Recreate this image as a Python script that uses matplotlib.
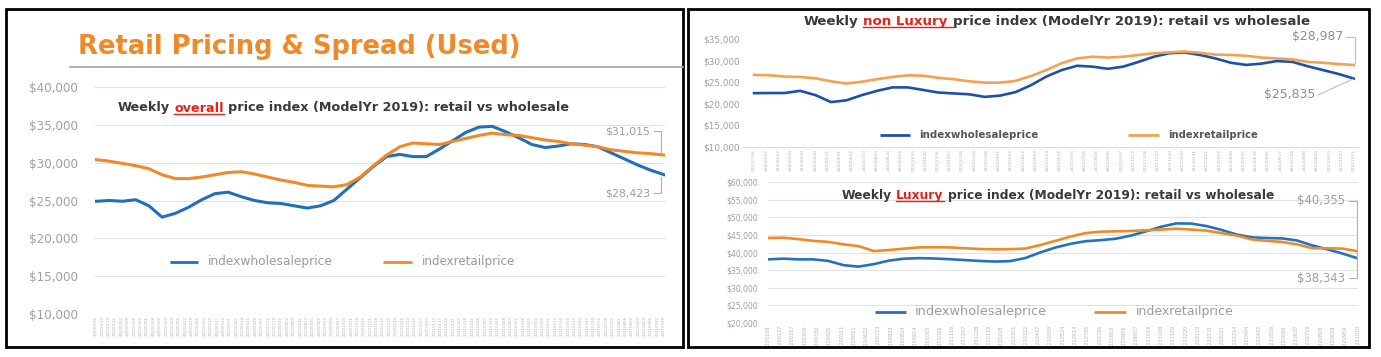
import numpy as np
import pandas as pd
import matplotlib
matplotlib.use('Agg')
import matplotlib.pyplot as plt
from matplotlib.lines import Line2D
from matplotlib.patches import Rectangle
from matplotlib.ticker import FuncFormatter
from matplotlib.transforms import Bbox

plt.rcParams['font.family'] = ['DejaVu Sans']

W, H = 1381, 357

# ---- data ----
overall_wholesale = [24900, 25000, 24900, 25100, 24300, 22800, 23300, 24100, 25100, 25900,
                     26100, 25500, 25000, 24700, 24600, 24300, 24000, 24300, 25000, 26500,
                     28000, 29500, 30800, 31100, 30800, 30800, 31800, 32900, 34000, 34700,
                     34800, 34100, 33300, 32400, 32000, 32200, 32500, 32400, 32100, 31300,
                     30500, 29700, 29000, 28423]
overall_retail = [30400, 30200, 29900, 29600, 29200, 28400, 27900, 27900, 28100, 28400,
                  28700, 28800, 28500, 28100, 27700, 27400, 27000, 26900, 26800, 27100,
                  28100, 29600, 31000, 32100, 32600, 32500, 32400, 32800, 33200, 33600,
                  33900, 33700, 33600, 33300, 33000, 32800, 32500, 32300, 32100, 31700,
                  31500, 31300, 31200, 31015]

nonlux_wholesale = [22460, 22500, 22500, 23000, 22000, 20400, 20800, 22000, 23000, 23800,
                    23800, 23200, 22600, 22400, 22200, 21600, 21900, 22700, 24300, 26300,
                    27800, 28800, 28600, 28100, 28600, 29700, 30900, 31700, 31900, 31300,
                    30500, 29500, 29000, 29300, 29900, 29700, 28700, 27800, 26900, 25835]
nonlux_retail = [26700, 26600, 26300, 26200, 25900, 25200, 24700, 25100, 25700, 26200,
                 26600, 26500, 26000, 25700, 25200, 24900, 24900, 25300, 26400, 27800,
                 29400, 30500, 30900, 30700, 30900, 31300, 31700, 31900, 32100, 31800,
                 31400, 31300, 31100, 30700, 30500, 30300, 29700, 29500, 29200, 28987]

lux_wholesale = [38050, 38250, 38050, 38050, 37600, 36400, 36000, 36700, 37700, 38250,
                 38390, 38300, 38100, 37850, 37600, 37430, 37550, 38400, 40000, 41400,
                 42450, 43200, 43500, 43900, 44800, 46000, 47300, 48250, 48200, 47500,
                 46400, 45100, 44300, 44100, 44000, 43400, 42000, 40900, 39700, 38343]
lux_retail = [44100, 44200, 43800, 43300, 43000, 42300, 41800, 40400, 40700, 41100,
              41450, 41480, 41450, 41200, 41000, 40900, 40950, 41100, 42100, 43300,
              44500, 45500, 45900, 46000, 46100, 46300, 46500, 46750, 46500, 46200,
              45500, 44800, 43700, 43300, 43000, 42300, 41200, 41200, 41100, 40355]

overall_labels = pd.date_range('2020-01-05', periods=90, freq='7D').strftime('%Y%m%d')
nonlux_labels = pd.date_range('2020-01-06', periods=50, freq='21D').strftime('%Y%m%d')
lux_labels = pd.date_range('2020-01-06', periods=49, freq='21D').strftime('%Y%m%d')

series_names = ['indexwholesaleprice', 'indexretailprice']

fig = plt.figure(figsize=(W / 100, H / 100), dpi=100)
R = fig.canvas.get_renderer()


def fx(x):
    return x / W


def fy(y):
    return 1 - y / H


def px_axes(x0, y0, x1, y1):
    return fig.add_axes([fx(x0), fy(y1), (x1 - x0) / W, (y1 - y0) / H])


def text_w(s, size, weight='normal'):
    t = fig.text(0, 0, s, fontsize=size, fontweight=weight)
    w = t.get_window_extent(R).width
    t.remove()
    return w


def fit_text(x0, x1, y, s, color, weight='normal', ha='left'):
    size = 10 * (x1 - x0) / text_w(s, 10, weight)
    xa = x0 if ha == 'left' else x1
    return fig.text(fx(xa), fy(y), s, fontsize=size, fontweight=weight,
                    color=color, ha=ha, va='center')


def headline(x0, x1, yb, pre, red, post, ul_space=False):
    sp10 = text_w('x x', 10, 'bold') - text_w('xx', 10, 'bold')
    tot = text_w(pre, 10, 'bold') + text_w(red, 10, 'bold') + text_w(post, 10, 'bold') + 2 * sp10
    size = 10 * (x1 - x0) / tot
    k = size / 10
    x = x0
    fig.text(fx(x), fy(yb), pre, fontsize=size, fontweight='bold', color='#3a3a3a', va='baseline')
    x += (text_w(pre, 10, 'bold') + sp10) * k
    fig.text(fx(x), fy(yb), red, fontsize=size, fontweight='bold', color='#e2231a', va='baseline')
    wr = text_w(red, 10, 'bold') * k
    ul_end = x + wr + (sp10 * k if ul_space else 0)
    fig.add_artist(Line2D([fx(x), fx(ul_end)], [fy(yb + 2)] * 2, color='#e2231a', lw=1.0))
    x += wr + sp10 * k
    fig.text(fx(x), fy(yb), post, fontsize=size, fontweight='bold', color='#3a3a3a', va='baseline')


def legend(y, items, color, weight='normal'):
    for (lx0, lx1, tx0, tx1), name, c in items:
        fig.add_artist(Line2D([fx(lx0), fx(lx1)], [fy(y)] * 2, color=c, lw=2.0,
                              solid_capstyle='butt'))
        fit_text(tx0, tx1, y, name, color, weight)


def leader(pts, color='#b0b0b0'):
    fig.add_artist(Line2D([fx(p[0]) for p in pts], [fy(p[1]) for p in pts], color=color, lw=0.8))


def setup(ax, ylo, yhi, step, ysize, labels, xsize, xlim, n, clip_y=None, grid=True):
    ax.set_xlim(xlim[0], xlim[1])
    ax.set_ylim(ylo, yhi)
    ax.set_yticks(np.arange(ylo, yhi + 1, step))
    ax.yaxis.set_major_formatter(FuncFormatter(lambda v, p: f'${v:,.0f}'))
    for s in ax.spines.values():
        s.set_visible(False)
    if grid:
        ax.grid(axis='y', color='#e2e2e2', lw=0.8)
    else:
        ax.spines['bottom'].set_visible(True)
        ax.spines['bottom'].set_color('#dcdcdc')
    ax.set_axisbelow(True)
    ax.tick_params(length=0, labelsize=ysize, labelcolor='#a0a0a0')
    ax.set_xticks(np.linspace(0, n - 1, len(labels)))
    ax.set_xticklabels(labels, rotation=90, fontsize=xsize, color='#b4b4b4')
    ax.tick_params(axis='x', pad=1.5)
    if clip_y is not None:
        box = Bbox.from_extents(0, (1 - clip_y / H) * H, W, H)
        for t in ax.get_xticklabels():
            t.set_clip_box(box)
            t.set_clip_on(True)


blue_l, orange_l = '#1f6fbe', '#ef8a2a'
blue_n, orange_n = '#1d4fae', '#f2a250'
blue_x, orange_x = '#2471bd', '#ef8a26'

# ---- left panel: overall ----
ax1 = px_axes(95, 87, 665, 314)
n1 = len(overall_wholesale)
ax1.plot(range(n1), overall_wholesale, color=blue_l, lw=2.2)
ax1.plot(range(n1), overall_retail, color=orange_l, lw=2.2)
setup(ax1, 10000, 40000, 5000, 8.6, overall_labels, 2.9, (-0.08, n1 - 1 + 0.08), n1)
ax1.tick_params(axis='y', pad=12)

fit_text(78, 521, 47, 'Retail Pricing & Spread (Used)', '#ef8a2a', 'bold')
fig.add_artist(Line2D([fx(70), fx(683)], [fy(67)] * 2, color='#a3a3a3', lw=1.2))
headline(118, 569, 111.5, 'Weekly', 'overall', 'price index (ModelYr 2019): retail vs wholesale')
legend(262, [((170, 198, 208, 333), series_names[0], blue_l),
             ((383, 412, 422, 515), series_names[1], orange_l)], '#9a9a9a')
fit_text(605, 650, 131, f'${overall_retail[-1]:,}', '#a0a0a0', ha='right')
fit_text(605, 650, 193, f'${overall_wholesale[-1]:,}', '#a0a0a0', ha='right')
leader([(654, 131), (661, 131), (661, 153)])
leader([(654, 193), (661, 193), (661, 177)])

# ---- top right: non luxury ----
ax2 = px_axes(743, 39, 1358, 147)
n2 = len(nonlux_wholesale)
ax2.plot(range(n2), nonlux_wholesale, color=blue_n, lw=1.9)
ax2.plot(range(n2), nonlux_retail, color=orange_n, lw=1.9)
setup(ax2, 10000, 35000, 5000, 6.4, nonlux_labels, 3.2, (-0.72, n2 - 1 + 0.27), n2, grid=False)
ax2.tick_params(axis='y', pad=2)

headline(804, 1310, 25, 'Weekly', 'non Luxury', 'price index (ModelYr 2019): retail vs wholesale',
         ul_space=True)
legend(135, [((880, 910, 919, 1038), series_names[0], blue_n),
             ((1128, 1159, 1168, 1257), series_names[1], orange_n)], '#555555', 'bold')
fit_text(1292, 1343, 37, f'${nonlux_retail[-1]:,}', '#8e8e8e', ha='right')
fit_text(1264, 1315, 95, f'${nonlux_wholesale[-1]:,}', '#8e8e8e', ha='right')
leader([(1346, 37), (1355, 37), (1355, 63)], '#bdbdbd')
leader([(1318, 95), (1353, 79)], '#bdbdbd')

# ---- bottom right: luxury ----
ax3 = px_axes(768, 182, 1358, 323)
n3 = len(lux_wholesale)
ax3.plot(range(n3), lux_wholesale, color=blue_x, lw=1.9)
ax3.plot(range(n3), lux_retail, color=orange_x, lw=1.9)
setup(ax3, 20000, 60000, 5000, 5.6, lux_labels, 3.6, (0, n3 - 1 + 0.02), n3, clip_y=346)
ax3.tick_params(axis='y', pad=7)

headline(842, 1275, 198.5, 'Weekly', 'Luxury', 'price index (ModelYr 2019): retail vs wholesale')
legend(312, [((875, 906, 915, 1047), series_names[0], blue_x),
             ((1094, 1126, 1136, 1234), series_names[1], orange_x)], '#9c9c9c')
fit_text(1297, 1345, 201, f'${lux_retail[-1]:,}', '#a0a0a0', ha='right')
fit_text(1297, 1345, 278, f'${lux_wholesale[-1]:,}', '#a0a0a0', ha='right')
leader([(1349, 201), (1357, 201), (1357, 278), (1349, 278)])

# ---- frames ----
for x0, y0, x1, y1 in [(6, 9, 683, 347), (688, 9, 1369, 347)]:
    fig.add_artist(Rectangle((fx(x0), fy(y1)), (x1 - x0) / W, (y1 - y0) / H,
                             fill=False, ec='black', lw=2.0))

fig.savefig('out.png', dpi=100)
